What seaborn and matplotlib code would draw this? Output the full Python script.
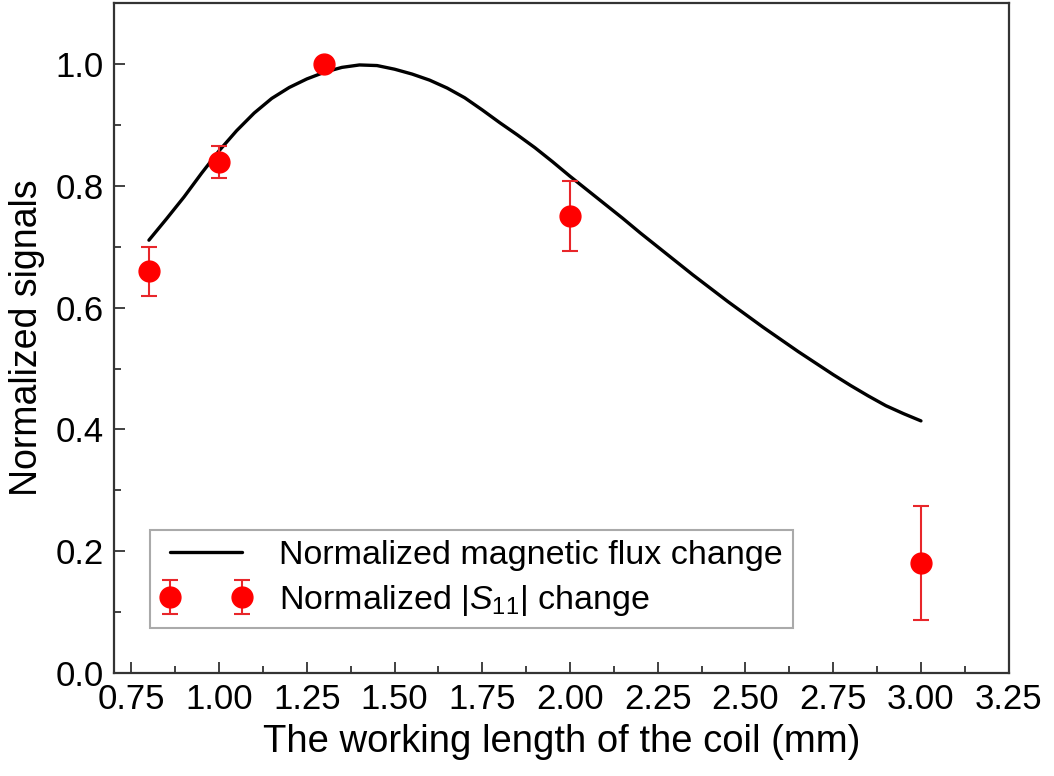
import matplotlib
matplotlib.use("Agg")
import matplotlib.pyplot as plt
import seaborn as sns
import numpy as np
import pandas as pd

# Data
curve_x = [0.80, 0.85, 0.90, 0.95, 1.00, 1.05, 1.10, 1.15, 1.20, 1.25, 1.30, 1.35,
           1.40, 1.45, 1.50, 1.55, 1.60, 1.65, 1.70, 1.75, 1.80, 1.85, 1.90, 1.95,
           2.00, 2.05, 2.10, 2.15, 2.20, 2.25, 2.30, 2.35, 2.40, 2.45, 2.50, 2.55,
           2.60, 2.65, 2.70, 2.75, 2.80, 2.85, 2.90, 2.95, 3.00]
curve_y = [0.711, 0.746, 0.782, 0.821, 0.858, 0.891, 0.920, 0.944, 0.962, 0.976, 0.987, 0.995,
           0.999, 0.998, 0.992, 0.984, 0.974, 0.961, 0.945, 0.925, 0.904, 0.884, 0.863, 0.840,
           0.816, 0.793, 0.770, 0.747, 0.723, 0.700, 0.677, 0.654, 0.632, 0.610, 0.589, 0.568,
           0.548, 0.528, 0.509, 0.490, 0.472, 0.455, 0.439, 0.426, 0.414]
pts_x = [0.8, 1.0, 1.3, 2.0, 3.0]
pts_y = [0.66, 0.839, 1.0, 0.751, 0.18]
pts_err = [0.04, 0.026, 0.0, 0.058, 0.094]

x_ticks = [0.75, 1.00, 1.25, 1.50, 1.75, 2.00, 2.25, 2.50, 2.75, 3.00, 3.25]
y_ticks = [0.0, 0.2, 0.4, 0.6, 0.8, 1.0]

sns.set_theme(style="ticks")
plt.rcParams['font.family'] = ['Liberation Sans', 'DejaVu Sans']
plt.rcParams['mathtext.fontset'] = 'custom'
plt.rcParams['mathtext.rm'] = 'Liberation Sans'
plt.rcParams['mathtext.it'] = 'Liberation Sans:italic'
for k in ['text.color', 'axes.labelcolor', 'xtick.labelcolor', 'ytick.labelcolor']:
    plt.rcParams[k] = 'black'

fig = plt.figure(figsize=(10.54, 7.76), dpi=100)
ax = fig.add_axes([0.108, 0.133, 0.849, 0.8625])

df = pd.DataFrame({"x": curve_x, "y": curve_y})
sns.lineplot(data=df, x="x", y="y", ax=ax, color="black", linewidth=2.4,
             label="Normalized magnetic flux change", sort=False)

ax.errorbar(pts_x, pts_y, yerr=pts_err, fmt="o", color="#ff0000", ecolor="#e8262a",
            markersize=15, elinewidth=1.5, capsize=5.5, capthick=1.5,
            label=r"Normalized |$S_{\mathit{11}}$| change")

ax.set_xlim(0.70, 3.25)
ax.set_ylim(0.0, 1.1)
ax.set_xticks(x_ticks)
ax.set_xticklabels([f"{v:.2f}" for v in x_ticks])
ax.set_yticks(y_ticks)
ax.set_yticklabels([f"{v:.1f}" for v in y_ticks])
ax.set_xticks(np.arange(0.875, 3.25, 0.25), minor=True)
ax.set_yticks(np.arange(0.1, 1.1, 0.2), minor=True)

ax.tick_params(which="major", direction="in", length=8, width=1.3, labelsize=25,
               color="#333333", pad=7)
ax.tick_params(which="minor", direction="in", length=5, width=1.3, color="#333333")
for s in ax.spines.values():
    s.set_linewidth(1.6)
    s.set_color("#333333")

ax.set_xlabel("The working length of the coil (mm)", fontsize=27.5, labelpad=6)
ax.set_ylabel("Normalized signals", fontsize=27, labelpad=8)

leg = ax.legend(loc="lower left", bbox_to_anchor=(0.04, 0.067), fontsize=24.5,
                numpoints=2, handlelength=2.7, handletextpad=0.8, fancybox=False,
                frameon=True, edgecolor="#aaaaaa", framealpha=1, borderpad=0.3,
                borderaxespad=0, labelspacing=0.35)
leg.get_frame().set_linewidth(1.5)

fig.savefig("out.png", dpi=100, facecolor="white")
